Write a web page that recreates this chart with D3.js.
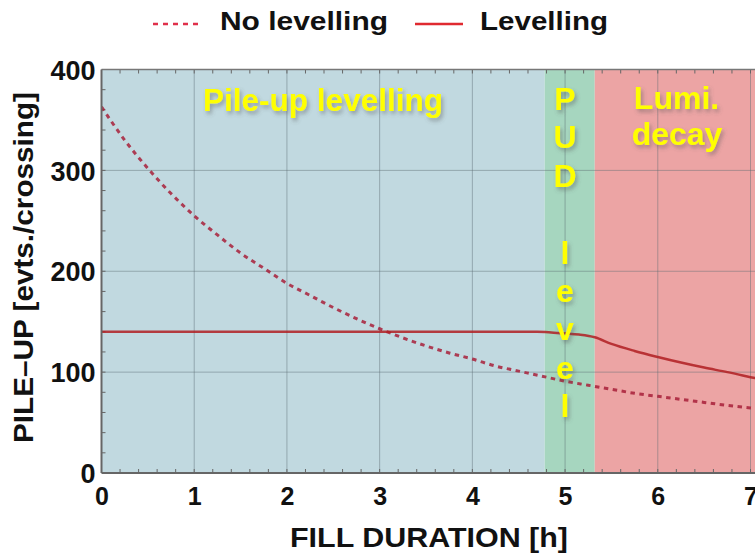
<!DOCTYPE html>
<html>
<head>
<meta charset="utf-8">
<script src="https://cdn.jsdelivr.net/npm/d3@7"></script>
<style>
  html, body { margin: 0; padding: 0; background: #fff; }
  svg { display: block; font-family: "Liberation Sans", Arial, sans-serif; font-weight: bold; }
</style>
</head>
<body>
<svg id="chart" width="755" height="557"></svg>
<script>
// ---- data ----
const xTicks = [0, 1, 2, 3, 4, 5, 6, 7];
const yTicks = [0, 100, 200, 300, 400];
const timeNoLev = [0, 0.25, 0.5, 0.75, 1, 1.25, 1.5, 1.75, 2, 2.25, 2.5, 2.75, 3, 3.25, 3.5, 3.75, 4, 4.25, 4.5, 4.75, 5, 5.25, 5.5, 5.75, 6, 6.25, 6.5, 6.75, 7, 7.1];
const pileupNoLev = [363, 330, 302, 277, 255, 236, 218, 203, 188, 176, 164, 153, 143, 134, 126, 119, 113, 106, 101, 96, 91, 87, 83, 79, 76, 73, 70, 67, 64.5, 63.5];
const timeLev = [0, 1, 2, 3, 4, 4.7, 4.85, 5.0, 5.15, 5.32, 5.5, 5.75, 6, 6.25, 6.5, 6.75, 7, 7.1];
const pileupLev = [140, 140, 140, 140, 140, 140, 139.4, 138.4, 137.2, 134.5, 128, 121, 115, 109.5, 104.5, 100, 95, 93];
const regionNames = ["Pile-up levelling", "PUD level", "Lumi. decay"];
const regionStart = [0, 4.78, 5.32];
const regionEnd = [4.78, 5.32, 7.2];
const regionColors = ["#c1d9e0", "#a6d6bf", "#eca4a4"];
const legendLabels = ["No levelling", "Levelling"];

(function () {
// ---- layout ----
const svg = d3.select("#chart");
const W = 755;
const x = d3.scaleLinear().domain([0, 7]).range([101.5, 750.5]);
const y = d3.scaleLinear().domain([0, 400]).range([473, 69.5]);
const pL = x(0), pR = W, pT = y(400), pB = y(0);

const defs = svg.append("defs");
defs.append("clipPath").attr("id", "plotclip").append("rect")
  .attr("x", pL).attr("y", pT).attr("width", pR - pL).attr("height", pB - pT);
const f = defs.append("filter").attr("id", "shadow").attr("x", "-20%").attr("y", "-20%").attr("width", "140%").attr("height", "160%");
f.append("feDropShadow").attr("dx", 2).attr("dy", 3).attr("stdDeviation", 2)
  .attr("flood-color", "#555").attr("flood-opacity", 0.45);

const plot = svg.append("g").attr("clip-path", "url(#plotclip)");

// region backgrounds
plot.selectAll("rect.region").data(regionNames).enter().append("rect")
  .attr("class", "region")
  .attr("x", (d, i) => x(regionStart[i]))
  .attr("y", pT)
  .attr("width", (d, i) => x(regionEnd[i]) - x(regionStart[i]))
  .attr("height", pB - pT)
  .attr("fill", (d, i) => regionColors[i]);

// grid lines
plot.selectAll("line.gx").data(xTicks.filter(d => d > 0)).enter().append("line")
  .attr("x1", d => x(d)).attr("x2", d => x(d)).attr("y1", pT).attr("y2", pB)
  .attr("stroke", "#5a6a72").attr("stroke-opacity", 0.45).attr("stroke-width", 1);
plot.selectAll("line.gy").data(yTicks.filter(d => d > 0 && d < 400)).enter().append("line")
  .attr("x1", pL).attr("x2", pR).attr("y1", d => y(d)).attr("y2", d => y(d))
  .attr("stroke", "#5a6a72").attr("stroke-opacity", 0.45).attr("stroke-width", 1);

// minor ticks
const xMinor = d3.range(0, 7.2, 0.2);
const yMinor = d3.range(0, 401, 20);
plot.selectAll("line.mxb").data(xMinor).enter().append("line")
  .attr("x1", d => x(d)).attr("x2", d => x(d)).attr("y1", pB).attr("y2", pB - 4)
  .attr("stroke", "#666").attr("stroke-width", 1);
plot.selectAll("line.mxt").data(xMinor).enter().append("line")
  .attr("x1", d => x(d)).attr("x2", d => x(d)).attr("y1", pT).attr("y2", pT + 4)
  .attr("stroke", "#666").attr("stroke-width", 1);
plot.selectAll("line.my").data(yMinor).enter().append("line")
  .attr("x1", pL).attr("x2", pL + 4).attr("y1", d => y(d)).attr("y2", d => y(d))
  .attr("stroke", "#666").attr("stroke-width", 1);

// curves
const line = d3.line().x(d => x(d[0])).y(d => y(d[1])).curve(d3.curveMonotoneX);
plot.append("path")
  .datum(timeNoLev.map((t, i) => [t, pileupNoLev[i]]))
  .attr("d", line).attr("fill", "none")
  .attr("stroke", "#a8203a").attr("stroke-opacity", 0.85)
  .attr("stroke-width", 3).attr("stroke-dasharray", "4.5,4.5");
plot.append("path")
  .datum(timeLev.map((t, i) => [t, pileupLev[i]]))
  .attr("d", line).attr("fill", "none")
  .attr("stroke", "#b01e22").attr("stroke-opacity", 0.85)
  .attr("stroke-width", 2.5);

// frame
svg.append("line").attr("x1", pL).attr("x2", pR).attr("y1", pT).attr("y2", pT)
  .attr("stroke", "#777").attr("stroke-width", 1.5);
svg.append("line").attr("x1", pL).attr("x2", pR).attr("y1", pB).attr("y2", pB)
  .attr("stroke", "#666").attr("stroke-width", 2);
svg.append("line").attr("x1", pL).attr("x2", pL).attr("y1", pT).attr("y2", pB)
  .attr("stroke", "#666").attr("stroke-width", 2);

// axes labels (D3 axes for tick text)
const xAxis = svg.append("g").attr("transform", `translate(0,${pB})`)
  .call(d3.axisBottom(x).tickValues(xTicks).tickSize(0).tickPadding(0).tickFormat(d3.format("d")));
xAxis.select(".domain").remove();
xAxis.selectAll("text").attr("font-size", 25).attr("font-family", "Liberation Sans, Arial, sans-serif")
  .attr("font-weight", "bold").attr("fill", "#111").attr("dy", null).attr("y", 32);

const yAxis = svg.append("g").attr("transform", `translate(${pL},0)`)
  .call(d3.axisLeft(y).tickValues(yTicks).tickSize(0).tickPadding(6).tickFormat(d3.format("d")));
yAxis.select(".domain").remove();
yAxis.selectAll("text").attr("font-size", 27).attr("font-family", "Liberation Sans, Arial, sans-serif")
  .attr("font-weight", "bold").attr("fill", "#111").attr("dy", "0.36em");

// axis titles
svg.append("text").attr("x", 429).attr("y", 547).attr("text-anchor", "middle")
  .attr("font-size", 28).attr("fill", "#111")
  .attr("textLength", 278).attr("lengthAdjust", "spacingAndGlyphs")
  .text("FILL DURATION [h]");
svg.append("text").attr("transform", "translate(33,267.5) rotate(-90)").attr("text-anchor", "middle")
  .attr("font-size", 28).attr("fill", "#111")
  .attr("textLength", 351).attr("lengthAdjust", "spacingAndGlyphs")
  .text("PILE\u2013UP [evts./crossing]");

// region labels
const lab = svg.append("g").attr("filter", "url(#shadow)").attr("fill", "#ffff00").attr("font-size", 32);
lab.append("text").attr("x", 323).attr("y", 111).attr("text-anchor", "middle")
  .attr("textLength", 240).attr("lengthAdjust", "spacingAndGlyphs").text(regionNames[0]);
const pud = lab.append("text").attr("text-anchor", "middle");
regionNames[1].split("").forEach((ch, i) => {
  pud.append("tspan").attr("x", 565).attr("y", 110 + i * 38.4).text(ch === " " ? "\u00a0" : ch);
});
const lumiWords = regionNames[2].split(" ");
lab.append("text").attr("x", 676.5).attr("y", 109).attr("text-anchor", "middle").text(lumiWords[0]);
lab.append("text").attr("x", 677).attr("y", 145).attr("text-anchor", "middle").text(lumiWords[1]);

// legend
const leg = svg.append("g");
leg.append("line").attr("x1", 153).attr("x2", 202).attr("y1", 24).attr("y2", 24)
  .attr("stroke", "#e0304a").attr("stroke-width", 2.5).attr("stroke-dasharray", "5,5");
leg.append("text").attr("x", 220).attr("y", 30).attr("font-size", 25).attr("fill", "#111")
  .attr("textLength", 168).attr("lengthAdjust", "spacingAndGlyphs").text(legendLabels[0]);
leg.append("line").attr("x1", 415).attr("x2", 463).attr("y1", 24).attr("y2", 24)
  .attr("stroke", "#e02a30").attr("stroke-width", 2.5);
leg.append("text").attr("x", 480).attr("y", 30).attr("font-size", 25).attr("fill", "#111")
  .attr("textLength", 128).attr("lengthAdjust", "spacingAndGlyphs").text(legendLabels[1]);
})();
</script>
</body>
</html>
